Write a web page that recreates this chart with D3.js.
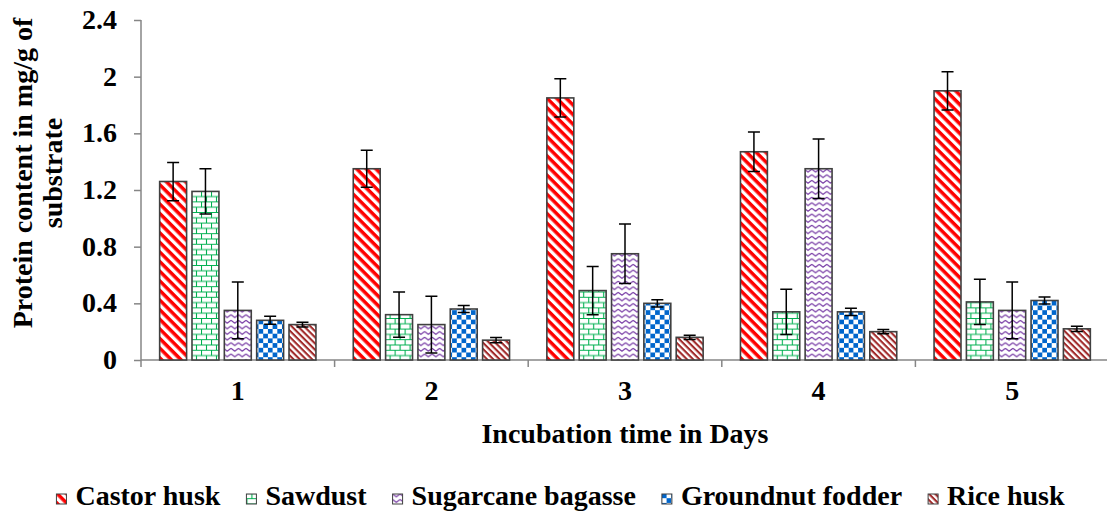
<!DOCTYPE html>
<html>
<head>
<meta charset="utf-8">
<script src="https://cdn.jsdelivr.net/npm/d3@7"></script>
<style>
  html, body { margin: 0; padding: 0; background: #fff; }
  svg { display: block; }
  text { font-family: "Liberation Serif", "Times New Roman", serif; font-weight: bold; fill: #000; }
</style>
</head>
<body>
<svg id="chart" width="1107" height="513"></svg>
<script>
// Incubation days (x groups) and substrates (series)
const days = ["1", "2", "3", "4", "5"];
const substrates = ["Castor husk", "Sawdust", "Sugarcane bagasse", "Groundnut fodder", "Rice husk"];

// Mean protein content (mg/g of substrate), one array per substrate, indexed by day
const castorHusk      = [1.26, 1.35, 1.85, 1.47, 1.90];
const sawdust         = [1.19, 0.32, 0.49, 0.34, 0.41];
const sugarcane       = [0.35, 0.25, 0.75, 1.35, 0.35];
const groundnutFodder = [0.28, 0.36, 0.40, 0.34, 0.42];
const riceHusk        = [0.25, 0.14, 0.16, 0.20, 0.22];

// Standard error, same layout
const castorHuskErr      = [0.135, 0.13, 0.135, 0.14, 0.135];
const sawdustErr         = [0.16, 0.16, 0.17, 0.16, 0.16];
const sugarcaneErr       = [0.20, 0.20, 0.21, 0.21, 0.20];
const groundnutFodderErr = [0.028, 0.025, 0.025, 0.025, 0.025];
const riceHuskErr        = [0.017, 0.018, 0.015, 0.015, 0.018];

const yTicks = [0, 0.4, 0.8, 1.2, 1.6, 2, 2.4];

const seriesValues = [castorHusk, sawdust, sugarcane, groundnutFodder, riceHusk];
const seriesErrors = [castorHuskErr, sawdustErr, sugarcaneErr, groundnutFodderErr, riceHuskErr];
const patternIds = ["pat-castor", "pat-sawdust", "pat-sugarcane", "pat-groundnut", "pat-rice"];

const svg = d3.select("#chart");
const plotLeft = 141, plotRight = 1109, plotTop = 20, plotBottom = 360;

// ---------- fill patterns ----------
const defs = svg.append("defs");

// red diagonal stripes
const pCastor = defs.append("pattern").attr("id", "pat-castor")
  .attr("patternUnits", "userSpaceOnUse").attr("width", 6.8).attr("height", 6.8)
  .attr("patternTransform", "rotate(45)");
pCastor.append("rect").attr("width", 6.8).attr("height", 6.8).attr("fill", "#fff");
pCastor.append("rect").attr("width", 6.8).attr("height", 3.5).attr("fill", "#FF0000");

// green brick
const pSaw = defs.append("pattern").attr("id", "pat-sawdust")
  .attr("patternUnits", "userSpaceOnUse").attr("width", 10).attr("height", 10.6);
pSaw.append("rect").attr("width", 10).attr("height", 10.6).attr("fill", "#fff");
pSaw.append("path")
  .attr("d", "M0,0.5H10M0,5.8H10M0.5,0.5V5.8M5.5,5.8V10.6")
  .attr("stroke", "#00B050").attr("stroke-width", 1.1).attr("fill", "none");

// purple zigzag
const pSug = defs.append("pattern").attr("id", "pat-sugarcane")
  .attr("patternUnits", "userSpaceOnUse").attr("width", 7.5).attr("height", 5.6);
pSug.append("rect").attr("width", 7.5).attr("height", 5.6).attr("fill", "#fff");
pSug.append("path")
  .attr("d", "M0,1.2 L3.75,4 L7.5,1.2")
  .attr("stroke", "#7030A0").attr("stroke-width", 1.1).attr("fill", "none");

// blue checkerboard
const pGround = defs.append("pattern").attr("id", "pat-groundnut")
  .attr("patternUnits", "userSpaceOnUse").attr("width", 9.4).attr("height", 9.4);
pGround.append("rect").attr("width", 9.4).attr("height", 9.4).attr("fill", "#fff");
pGround.append("rect").attr("x", 4.7).attr("y", 0).attr("width", 4.7).attr("height", 4.7).attr("fill", "#0066CC");
pGround.append("rect").attr("x", 0).attr("y", 4.7).attr("width", 4.7).attr("height", 4.7).attr("fill", "#0066CC");

// dark red thin diagonal stripes
const pRice = defs.append("pattern").attr("id", "pat-rice")
  .attr("patternUnits", "userSpaceOnUse").attr("width", 4.4).attr("height", 4.4)
  .attr("patternTransform", "rotate(45)");
pRice.append("rect").attr("width", 4.4).attr("height", 4.4).attr("fill", "#fff");
pRice.append("rect").attr("width", 4.4).attr("height", 2.1).attr("fill", "#A12A2A");

// ---------- scales ----------
const x0 = d3.scaleBand().domain(days).range([plotLeft, plotRight]).paddingInner(0).paddingOuter(0);
const x1 = d3.scaleBand().domain(substrates).range([0, x0.bandwidth()])
  .paddingInner(0.167).paddingOuter(0.577);
const y = d3.scaleLinear().domain([0, 2.4]).range([plotBottom, plotTop]);

// ---------- axes ----------
const axisColor = "#868686";

// y axis
const yAxis = svg.append("g").attr("transform", `translate(${plotLeft},0)`)
  .call(d3.axisLeft(y).tickValues(yTicks).tickSize(7).tickPadding(17)
    .tickFormat(d => d3.format("")(d)));
yAxis.select(".domain").attr("stroke", axisColor).attr("stroke-width", 1.5)
  .attr("d", `M0,${plotTop}V${plotBottom}`);
yAxis.selectAll(".tick line").attr("stroke", axisColor).attr("stroke-width", 1.5);
yAxis.selectAll(".tick text").attr("font-size", 28).attr("dy", "0.3em")
  .attr("font-family", "Liberation Serif, serif").attr("font-weight", "bold").attr("fill", "#000");

// x axis baseline with group separator ticks
const xAxis = svg.append("g").attr("transform", `translate(0,${plotBottom})`);
xAxis.append("line").attr("x1", plotLeft).attr("x2", plotRight).attr("y1", 0).attr("y2", 0)
  .attr("stroke", axisColor).attr("stroke-width", 1.5);
const seps = days.map(d => x0(d)).concat([x0(days[days.length - 1]) + x0.bandwidth()]);
xAxis.selectAll("line.sep").data(seps).join("line").attr("class", "sep")
  .attr("x1", d => d).attr("x2", d => d).attr("y1", 0).attr("y2", 7)
  .attr("stroke", axisColor).attr("stroke-width", 1.5);
xAxis.selectAll("text.day").data(days).join("text").attr("class", "day")
  .attr("x", d => x0(d) + x0.bandwidth() / 2).attr("y", 40)
  .attr("text-anchor", "middle").attr("font-size", 28).text(d => d);

// ---------- bars ----------
const groups = svg.append("g").selectAll("g").data(days).join("g")
  .attr("transform", d => `translate(${x0(d)},0)`);

const cells = groups.selectAll("g.cell")
  .data((d, i) => substrates.map((s, j) => ({ s, j, v: seriesValues[j][i], e: seriesErrors[j][i] })))
  .join("g").attr("class", "cell");

cells.append("rect")
  .attr("x", d => x1(d.s)).attr("width", x1.bandwidth())
  .attr("y", d => y(d.v)).attr("height", d => y(0) - y(d.v))
  .attr("fill", d => `url(#${patternIds[d.j]})`)
  .attr("stroke", "#404040").attr("stroke-width", 1.6);

// error bars
const cap = 6;
cells.append("path")
  .attr("d", d => {
    const cx = x1(d.s) + x1.bandwidth() / 2;
    const yt = y(d.v + d.e), yb = y(d.v - d.e);
    return `M${cx},${yt}V${yb}M${cx - cap},${yt}H${cx + cap}M${cx - cap},${yb}H${cx + cap}`;
  })
  .attr("stroke", "#000").attr("stroke-width", 1.5).attr("fill", "none");

// ---------- axis titles ----------
svg.append("text").attr("x", (plotLeft + plotRight) / 2).attr("y", 443)
  .attr("text-anchor", "middle").attr("font-size", 28).text("Incubation time in Days");

const yTitle = svg.append("text").attr("transform", "translate(32,173) rotate(-90)")
  .attr("text-anchor", "middle").attr("font-size", 28);
yTitle.append("tspan").attr("x", 0).attr("y", 0).text("Protein content in mg/g of");
yTitle.append("tspan").attr("x", 0).attr("y", 30).text("substrate");

// ---------- legend ----------
const legend = svg.append("g");
const swatch = 10, swGap = 9, itemGap = 26, legendY = 505;
let cursor = 0;
const items = legend.selectAll("g").data(substrates).join("g");
items.append("rect").attr("width", swatch).attr("height", swatch)
  .attr("y", legendY - swatch - 1)
  .attr("fill", (d, i) => `url(#${patternIds[i]})`)
  .attr("stroke", "#404040").attr("stroke-width", 1);
items.append("text").attr("x", swatch + swGap).attr("y", legendY)
  .attr("font-size", 28).text(d => d);
items.each(function () {
  const g = d3.select(this);
  g.attr("transform", `translate(${cursor},0)`);
  const w = g.select("text").node().getComputedTextLength();
  cursor += swatch + swGap + w + itemGap;
});
const totalW = cursor - itemGap;
legend.attr("transform", `translate(${(1107 - totalW) / 2 + 7},0)`);
</script>
</body>
</html>
